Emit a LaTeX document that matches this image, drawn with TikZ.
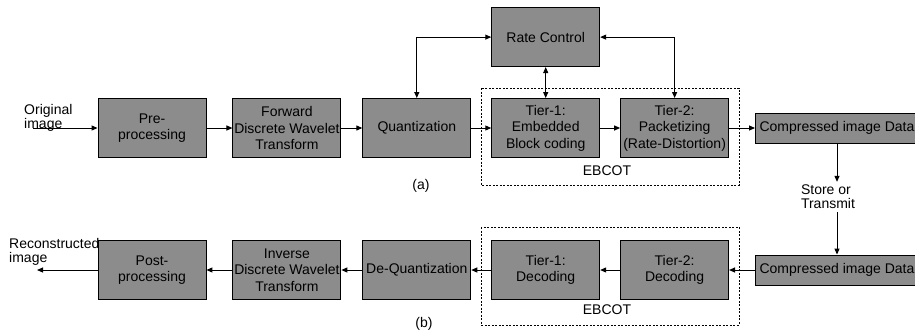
\documentclass[tikz,border=0pt]{standalone}
\usepackage{fontspec}
\setmainfont{Liberation Sans}
\usepackage{tikz}
\usetikzlibrary{arrows.meta, positioning}
\tikzset{
  cbox/.style={draw, line width=0.9pt, fill=black!45, align=center,
               inner sep=1pt, minimum width=108pt, minimum height=59pt,
               font=\fontsize{14}{16.5}\selectfont},
  dbox/.style={cbox, minimum width=163pt, minimum height=30pt},
  clabel/.style={align=left, inner sep=0pt, font=\fontsize{14}{14}\selectfont},
  carr/.style={-{Triangle[length=6pt,width=5pt]}, line width=1pt},
  cdarr/.style={{Triangle[length=6pt,width=5pt]}-{Triangle[length=6pt,width=5pt]},
                line width=1pt},
  cdash/.style={draw, line width=0.8pt, dash pattern=on 2pt off 1.5pt},
}
\begin{document}
\begin{tikzpicture}[x=1pt, y=-1pt]
\useasboundingbox (0,0) rectangle (915,333);
% ---- encoder row (a) ----
\node[cbox] (pre) at (152,128) {Pre-\\processing};
\node[cbox, right=26pt of pre] (fdwt) {Forward\\Discrete Wavelet\\Transform};
\node[cbox, right=21pt of fdwt] (quant) {Quantization};
\node[cbox, right=20pt of quant] (tierone) {Tier-1:\\Embedded\\Block coding};
\node[cbox, right=20pt of tierone] (tiertwo) {Tier-2:\\Packetizing\\(Rate-Distortion)};
\node[dbox, right=26pt of tiertwo] (cdata) {Compressed image Data};
\node[cbox, above=31pt of tierone] (rate) {Rate Control};
\node[clabel, anchor=north west] (orig) at (24,104) {Original\\image};
\coordinate (src) at (33,128);
% ---- decoder row (b) ----
\node[cbox] (post) at (152,270) {Post-\\processing};
\node[cbox, right=26pt of post] (idwt) {Inverse\\Discrete Wavelet\\Transform};
\node[cbox, right=21pt of idwt] (dequant) {De-Quantization};
\node[cbox, right=20pt of dequant] (tieronedec) {Tier-1:\\Decoding};
\node[cbox, right=20pt of tieronedec] (tiertwodec) {Tier-2:\\Decoding};
\node[dbox, right=26pt of tiertwodec] (cdatadec) {Compressed image Data};
\node[clabel, anchor=north west] (recon) at (9,238) {Reconstructed\\image};
\coordinate (sink) at (37,270);
% ---- channel between the rows ----
\node[clabel, inner sep=3pt] (store) at (828,197) {Store or\\Transmit};
% ---- EBCOT groups ----
\draw[cdash] ([xshift=-10pt,yshift=10pt]tierone.north west)
  rectangle ([xshift=10pt,yshift=-27pt]tiertwo.south east);
\draw[cdash] ([xshift=-10pt,yshift=13pt]tieronedec.north west)
  rectangle ([xshift=10pt,yshift=-25pt]tiertwodec.south east);
\node[clabel] (ebenc) at (607,171) {EBCOT};
\node[clabel] (ebdec) at (607,310) {EBCOT};
\node[clabel] (capa) at (421,186) {(a)};
\node[clabel] (capb) at (424,324) {(b)};
% ---- encoder flow ----
\draw[carr] (src) -- (pre);
\draw[carr] (pre) -- (fdwt);
\draw[carr] (fdwt) -- (quant);
\draw[carr] (quant) -- (tierone);
\draw[carr] (tierone) -- (tiertwo);
\draw[carr] (tiertwo) -- (cdata);
\draw[cdarr] (quant.north) |- (rate.west);
\draw[cdarr] (rate) -- (tierone);
\draw[cdarr] (tiertwo.north) |- (rate.east);
\draw[carr] (cdata.south) -- (cdata.south |- store.north);
\draw[carr] (cdatadec.north |- store.south) -- (cdatadec.north);
% ---- decoder flow ----
\draw[carr] (cdatadec) -- (tiertwodec);
\draw[carr] (tiertwodec) -- (tieronedec);
\draw[carr] (tieronedec) -- (dequant);
\draw[carr] (dequant) -- (idwt);
\draw[carr] (idwt) -- (post);
\draw[carr] (post) -- (sink);
\end{tikzpicture}
\end{document}
